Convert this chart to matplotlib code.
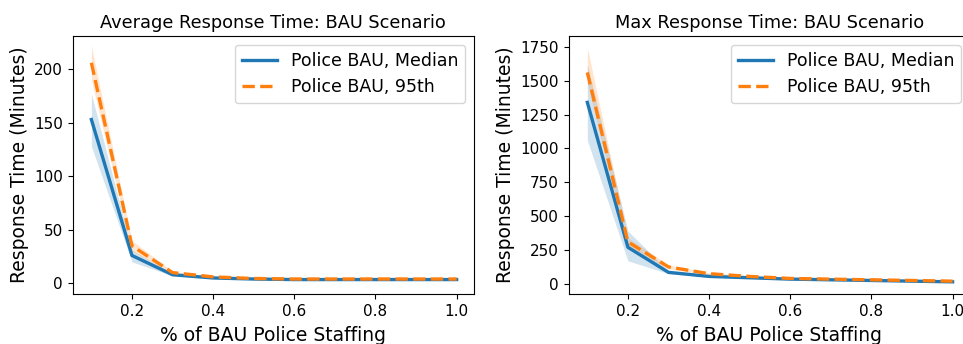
import matplotlib
matplotlib.use("Agg")
import matplotlib.pyplot as plt

staffing = [0.1, 0.2, 0.3, 0.4, 0.5, 0.6, 0.7, 0.8, 0.9, 1.0]

# average response time (minutes)
avg_median = [153, 26, 8, 5, 4, 3.5, 3.5, 3.5, 3.5, 3.5]
avg_median_lo = [128, 20, 7, 4.5, 3.5, 3, 3, 3, 3, 3]
avg_median_hi = [177, 31, 9, 5.5, 4.5, 4, 4, 4, 4, 4]
avg_p95 = [206, 35, 10, 6, 4.5, 4, 4, 4, 4, 4]
avg_p95_lo = [190, 30, 9, 5.5, 4, 3.5, 3.5, 3.5, 3.5, 3.5]
avg_p95_hi = [222, 40, 11, 6.5, 5, 4.5, 4.5, 4.5, 4.5, 4.5]

# max response time (minutes)
max_median = [1340, 270, 85, 55, 45, 35, 30, 25, 20, 15]
max_median_lo = [1060, 170, 75, 50, 40, 30, 26, 22, 17, 12]
max_median_hi = [1620, 390, 95, 60, 50, 40, 34, 28, 23, 18]
max_p95 = [1561, 310, 125, 75, 55, 40, 35, 30, 25, 20]
max_p95_lo = [1480, 280, 110, 68, 50, 36, 32, 27, 22, 17]
max_p95_hi = [1745, 340, 140, 82, 60, 44, 38, 33, 28, 23]

fig = plt.figure(figsize=(9.63, 3.44), dpi=100)
ax1 = fig.add_axes([0.0755, 0.1453, 0.4164, 0.75])
ax2 = fig.add_axes([0.5905, 0.1453, 0.4164, 0.75])


def draw_panel(ax, title, med, med_lo, med_hi, p95, p95_lo, p95_hi, yticks):
    ax.fill_between(staffing, med_lo, med_hi, color='tab:blue', alpha=0.2, linewidth=0)
    ax.fill_between(staffing, p95_lo, p95_hi, color='tab:orange', alpha=0.2, linewidth=0)
    ax.plot(staffing, med, color='tab:blue', lw=2.4, label='Police BAU, Median')
    ax.plot(staffing, p95, color='tab:orange', lw=2.4, ls='--', label='Police BAU, 95th')
    ax.set_title(title, fontsize=12.8, pad=6)
    ax.set_xlabel('% of BAU Police Staffing', fontsize=13.5, labelpad=5)
    ax.set_ylabel('Response Time (Minutes)', fontsize=13.5)
    ax.set_xticks([0.2, 0.4, 0.6, 0.8, 1.0])
    ax.set_yticks(yticks)
    ax.tick_params(axis='both', labelsize=11)
    ax.set_xlim(0.054, 1.042)
    ax.legend(loc='upper right', fontsize=12.5)


draw_panel(ax1, 'Average Response Time: BAU Scenario',
           avg_median, avg_median_lo, avg_median_hi, avg_p95, avg_p95_lo, avg_p95_hi,
           [0, 50, 100, 150, 200])
ax1.set_ylim(-10, 231)

draw_panel(ax2, 'Max Response Time: BAU Scenario',
           max_median, max_median_lo, max_median_hi, max_p95, max_p95_lo, max_p95_hi,
           [0, 250, 500, 750, 1000, 1250, 1500, 1750])
ax2.set_ylim(-75, 1830)

fig.savefig('out.png', dpi=100)
